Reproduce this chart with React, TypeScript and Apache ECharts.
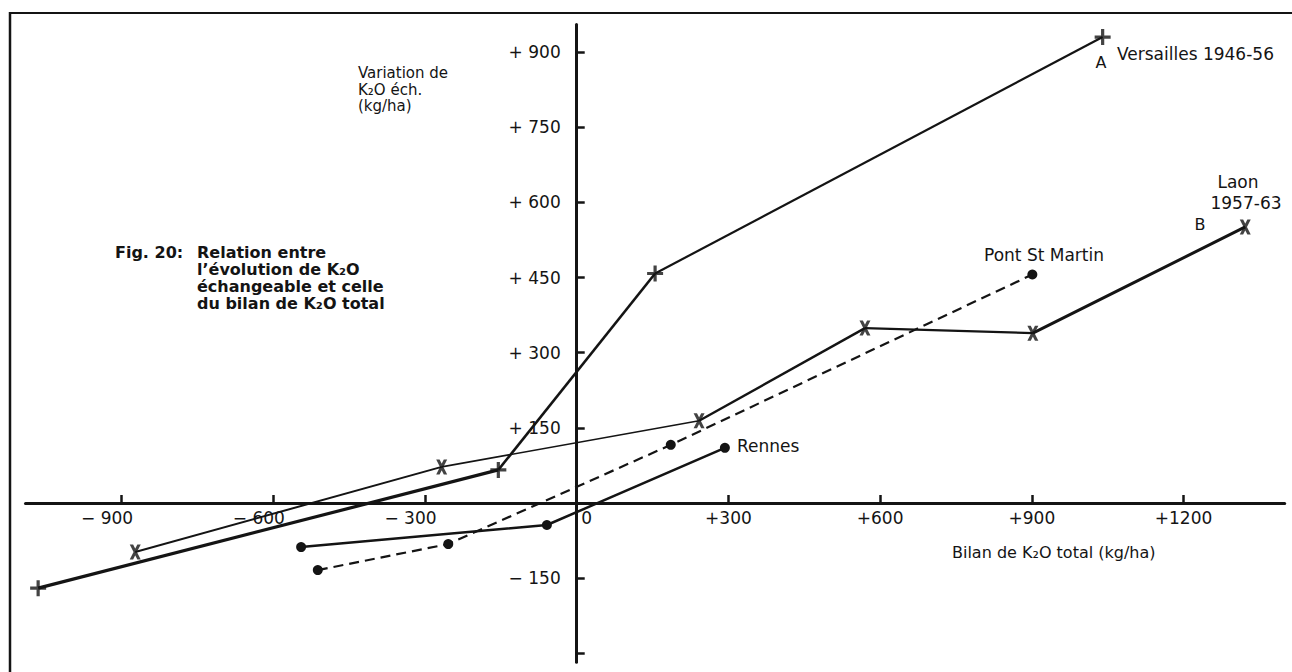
import React, { useEffect, useRef } from "react";
import * as echarts from "echarts";

// ---- data ----
const versaillesX = [-1065, -155, 155, 1040];
const versaillesY = [-170, 66, 458, 930];
const laonX = [-873, -267, 242, 570, 902, 1322];
const laonY = [-98, 72, 164, 349, 339, 551];
const pontX = [-512, -254, 186, 901];
const pontY = [-134, -82, 116, 456];
const rennesX = [-545, -59, 293];
const rennesY = [-88, -44, 110];

const xTickValues = [-900, -600, -300, 300, 600, 900, 1200];
const xLabelValues = [-900, -600, -300, 0, 300, 600, 900, 1200];
const yTickValues = [-300, -150, 150, 300, 450, 600, 750, 900];
const yLabelValues = [-150, 150, 300, 450, 600, 750, 900];

const INK = "#141414";
const FONT = '"DejaVu Sans", "Liberation Sans", sans-serif';

const PLUS = "path://M6,0 H9 V6 H15 V9 H9 V15 H6 V9 H0 V6 H6 Z";
const CROSS = "path://M0,0 L3.4,0 L11,15 L7.6,15 Z M7.6,0 L11,0 L3.4,15 L0,15 Z";

// layout (pixels) of the plotting area
const GRID = { left: 25.5, right: 7.3, top: 24.5, bottom: 9.7 };
const X_MIN = -1090;
const X_MAX = 1400;
const Y_MIN = -318;
const Y_MAX = 955;

const pairs = (xs: number[], ys: number[]) => xs.map((x, i) => [x, ys[i]]);

function segments(pts: number[][], widths: number[]) {
  return pts.slice(0, -1).map((p, i) => ({
    type: "line",
    data: [p, pts[i + 1]],
    symbol: "none",
    silent: true,
    lineStyle: { color: INK, width: widths[i] },
    z: 2,
  }));
}

function txt(text: string, x: number, y: number, size: number, opts: any = {}) {
  return {
    type: "text",
    x,
    y,
    silent: true,
    style: {
      text,
      fontSize: size,
      fontFamily: FONT,
      fontWeight: opts.bold ? "bold" : "normal",
      fill: INK,
      align: opts.align || "left",
      verticalAlign: opts.va || "middle",
      lineHeight: opts.lh || size * 1.2,
    },
    z: 10,
  };
}

export default function App() {
  const ref = useRef<HTMLDivElement>(null);

  useEffect(() => {
    document.body.style.margin = "0";
    if (!ref.current) return;
    const chart = echarts.init(ref.current, undefined, { renderer: "svg" });

    const W = 1292;
    const H = 672;
    const plotW = W - GRID.left - GRID.right;
    const plotH = H - GRID.top - GRID.bottom;
    // offsets that bring each axis onto the other's zero
    const xAxisOffset = -(plotH * (0 - Y_MIN)) / (Y_MAX - Y_MIN);
    const yAxisOffset = -(plotW * (0 - X_MIN)) / (X_MAX - X_MIN);

    const versailles = pairs(versaillesX, versaillesY);
    const laon = pairs(laonX, laonY);
    const pont = pairs(pontX, pontY);
    const rennes = pairs(rennesX, rennesY);

    const option: any = {
      animation: false,
      backgroundColor: "#ffffff",
      grid: { ...GRID, containLabel: false, outerBoundsMode: "none" },
      xAxis: {
        type: "value",
        position: "bottom",
        offset: xAxisOffset,
        min: X_MIN,
        max: X_MAX,
        splitLine: { show: false },
        axisLine: { show: true, onZero: false, lineStyle: { color: INK, width: 3 } },
        axisTick: {
          show: true,
          inside: true,
          length: 8,
          customValues: xTickValues,
          lineStyle: { color: INK, width: 2.5 },
        },
        axisLabel: {
          show: true,
          customValues: xLabelValues,
          margin: 7,
          color: INK,
          fontSize: 17,
          fontFamily: FONT,
          formatter: (v: number) => {
            if (v < 0) return "{n|\u2212 " + -v + "}{p| }";
            if (v === 0) return "{p0| }{n|0}";
            return "{n|+" + v + "}";
          },
          rich: {
            n: { fontSize: 17, fontFamily: FONT, color: INK },
            p: { width: 29, fontSize: 17 },
            p0: { width: 20, fontSize: 17 },
          },
        },
      },
      yAxis: {
        type: "value",
        position: "left",
        offset: yAxisOffset,
        min: Y_MIN,
        max: Y_MAX,
        splitLine: { show: false },
        axisLine: { show: true, onZero: false, lineStyle: { color: INK, width: 3 } },
        axisTick: {
          show: true,
          inside: true,
          length: 8,
          customValues: yTickValues,
          lineStyle: { color: INK, width: 2.5 },
        },
        axisLabel: {
          show: true,
          customValues: yLabelValues,
          margin: 16,
          color: INK,
          fontSize: 17,
          fontFamily: FONT,
          formatter: (v: number) => (v > 0 ? "+ " + v : v < 0 ? "\u2212 " + -v : ""),
        },
      },
      series: [
        ...segments(versailles, [3.2, 2.6, 2.2]),
        {
          type: "scatter",
          data: versailles,
          symbol: PLUS,
          symbolSize: 16,
          itemStyle: { color: INK },
          silent: true,
          z: 5,
        },
        ...segments(laon, [2, 1.6, 2.4, 2.2, 3]),
        {
          type: "scatter",
          data: laon,
          symbol: CROSS,
          symbolSize: [11, 15],
          itemStyle: { color: INK },
          silent: true,
          z: 5,
        },
        {
          type: "line",
          data: pont,
          symbol: "circle",
          symbolSize: 10,
          showSymbol: true,
          silent: true,
          itemStyle: { color: INK },
          lineStyle: { color: INK, width: 2.2, type: [10, 6] },
          z: 3,
        },
        {
          type: "line",
          data: rennes,
          symbol: "circle",
          symbolSize: 10,
          showSymbol: true,
          silent: true,
          itemStyle: { color: INK },
          lineStyle: { color: INK, width: 2.5 },
          z: 3,
        },
      ],
      graphic: [
        { type: "line", silent: true, shape: { x1: 10, y1: 13, x2: 1292, y2: 13 }, style: { stroke: INK, lineWidth: 2 } },
        { type: "line", silent: true, shape: { x1: 10, y1: 12, x2: 10, y2: 672 }, style: { stroke: INK, lineWidth: 2.5 } },
        txt("Variation de\nK\u2082O éch.\n(kg/ha)", 358, 65, 15, { va: "top", lh: 16.5 }),
        txt("Fig. 20:", 115, 252, 16, { bold: true }),
        txt(
          "Relation entre\nl\u2019évolution de K\u2082O\néchangeable et celle\ndu bilan de K\u2082O total",
          197,
          243.5,
          16,
          { bold: true, va: "top", lh: 17 }
        ),
        txt("A", 1101, 62, 16, { align: "center" }),
        txt("Versailles 1946-56", 1117, 54, 17),
        txt("Laon", 1238, 182, 17, { align: "center" }),
        txt("1957-63", 1246, 203, 17, { align: "center" }),
        txt("B", 1200, 224, 16, { align: "center" }),
        txt("Pont St Martin", 1044, 255, 17, { align: "center" }),
        txt("Rennes", 737, 446, 17),
        txt("Bilan de K\u2082O total (kg/ha)", 952, 552, 16),
      ],
    };

    chart.setOption(option);
    return () => chart.dispose();
  }, []);

  return (
    <div
      ref={ref}
      style={{ position: "absolute", left: 0, top: 0, width: 1292, height: 672 }}
    />
  );
}
